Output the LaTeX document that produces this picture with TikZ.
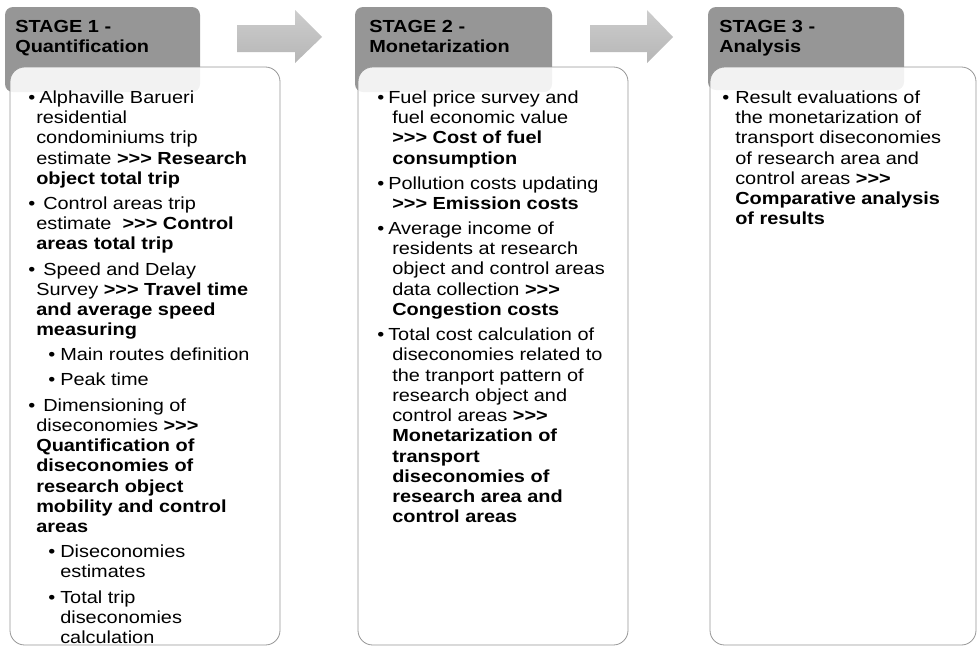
\documentclass[tikz,border=0pt]{standalone}
\usepackage{fontspec}
\setmainfont[FakeStretch=1.14]{Liberation Sans}
\newlength\pxu
\setlength\pxu{0.75pt}
\definecolor{hdrgray}{RGB}{150,150,150}
\definecolor{arrowtop}{RGB}{205,205,205}
\definecolor{arrowbot}{RGB}{182,182,182}
\definecolor{boxline}{RGB}{150,150,150}
\newcommand\mybul[2]{\makebox[#1\pxu][l]{\textbullet}#2}
\newcommand\mycont[2]{\hspace*{#1\pxu}#2}
\newcommand\tripgt{>\kern0pt>\kern0pt>}
\tikzset{
  hdrbox/.style={fill=hdrgray, draw=none, rounded corners=6pt},
  bodybox/.style={fill=white, fill opacity=0.88, draw=boxline, line width=0.6pt, rounded corners=11pt},
  blockarrow/.style={top color=arrowtop, bottom color=arrowbot, draw=none},
  hdrtext/.style={anchor=north west, inner sep=0pt, align=left, font=\bfseries\fontsize{13.1pt}{13.5pt}\selectfont},
  bodytext/.style={anchor=north west, inner sep=0pt, align=left, font=\fontsize{13.1pt}{15.2pt}\selectfont},
}
\begin{document}
\begin{tikzpicture}[x=0.75pt, y=-0.75pt]
\useasboundingbox (0,0) rectangle (977,647);

% headers
\path[hdrbox] (5,7) rectangle (200,92);
\path[hdrbox] (355,7) rectangle (552,92);
\path[hdrbox] (708,7) rectangle (904,90);

% body boxes
\path[bodybox] (10,67) rectangle (280,645);
\path[bodybox] (358,67) rectangle (628,645);
\path[bodybox] (710,67) rectangle (976,645);

% block arrows
\shade[blockarrow] (237,25) -- (295,25) -- (295,10) -- (322,37) -- (295,63) -- (295,52) -- (237,52) -- cycle;
\shade[blockarrow] (590,25) -- (647,25) -- (647,10) -- (673,37) -- (647,63) -- (647,52) -- (590,52) -- cycle;

% header texts
\node[hdrtext] (h1) at (15,20) {\strut STAGE 1 -\\Quantification};
\node[hdrtext] (h2) at (369,20) {\strut STAGE 2 -\\Monetarization};
\node[hdrtext] (h3) at (719,20) {\strut STAGE 3 -\\Analysis};

% stage 1 body
\node[bodytext] (b1) at (28,88.8) {\strut\mybul{11}{Alphaville Barueri}\\
\mycont{8}{residential}\\
\mycont{8}{condominiums trip}\\
\mycont{8}{estimate \textbf{\tripgt{} Research}}\\
\mycont{8}{\textbf{object total trip}}\\[3.6pt]
\mybul{15}{Control areas trip}\\
\mycont{8}{estimate \ \textbf{\tripgt{} Control}}\\
\mycont{8}{\textbf{areas total trip}}\\[3.6pt]
\mybul{15}{Speed and Delay}\\
\mycont{8}{Survey \textbf{\tripgt{} Travel time}}\\
\mycont{8}{\textbf{and average speed}}\\
\mycont{8}{\textbf{measuring}}\\[3.6pt]
\mycont{20}{\mybul{12}{Main routes definition}}\\[3.6pt]
\mycont{20}{\mybul{12}{Peak time}}\\[3.6pt]
\mybul{15}{Dimensioning of}\\
\mycont{8}{diseconomies \textbf{\tripgt}}\\
\mycont{8}{\textbf{Quantification of}}\\
\mycont{8}{\textbf{diseconomies of}}\\
\mycont{8}{\textbf{research object}}\\
\mycont{8}{\textbf{mobility and control}}\\
\mycont{8}{\textbf{areas}}\\[3.6pt]
\mycont{20}{\mybul{12}{Diseconomies}}\\
\mycont{32}{estimates}\\[3.6pt]
\mycont{20}{\mybul{12}{Total trip}}\\
\mycont{32}{diseconomies}\\
\mycont{32}{calculation}};

% stage 2 body
\node[bodytext] (b2) at (377,88.8) {\strut\mybul{11}{Fuel price survey and}\\
\mycont{15}{fuel economic value}\\
\mycont{15}{\textbf{\tripgt{} Cost of fuel}}\\
\mycont{15}{\textbf{consumption}}\\[3.6pt]
\mybul{11}{Pollution costs updating}\\
\mycont{15}{\textbf{\tripgt{} Emission costs}}\\[3.6pt]
\mybul{11}{Average income of}\\
\mycont{15}{residents at research}\\
\mycont{15}{object and control areas}\\
\mycont{15}{data collection \textbf{\tripgt}}\\
\mycont{15}{\textbf{Congestion costs}}\\[3.6pt]
\mybul{11}{Total cost calculation of}\\
\mycont{15}{diseconomies related to}\\
\mycont{15}{the tranport pattern of}\\
\mycont{15}{research object and}\\
\mycont{15}{control areas \textbf{\tripgt}}\\
\mycont{15}{\textbf{Monetarization of}}\\
\mycont{15}{\textbf{transport}}\\
\mycont{15}{\textbf{diseconomies of}}\\
\mycont{15}{\textbf{research area and}}\\
\mycont{15}{\textbf{control areas}}};

% stage 3 body
\node[bodytext] (b3) at (722,88.8) {\strut\mybul{13}{Result evaluations of}\\
\mycont{13}{the monetarization of}\\
\mycont{13}{transport diseconomies}\\
\mycont{13}{of research area and}\\
\mycont{13}{control areas \textbf{\tripgt}}\\
\mycont{13}{\textbf{Comparative analysis}}\\
\mycont{13}{\textbf{of results}}};
\end{tikzpicture}
\end{document}
